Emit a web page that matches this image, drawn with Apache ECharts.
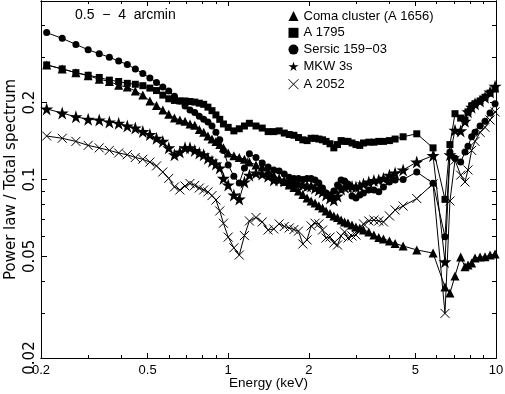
<!DOCTYPE html>
<html><head><meta charset="utf-8">
<script src="https://cdn.jsdelivr.net/npm/echarts@6/dist/echarts.min.js"></script>
<style>html,body{margin:0;padding:0;background:#fff}#c{width:505px;height:394px}</style>
</head><body><div id="c"></div>
<script>
// Energy grid (keV)
const energy = [0.21,0.24,0.27,0.30,0.33,0.36,0.39,0.42,0.45,0.48,0.51,0.54,0.57,0.60,0.63,0.66,0.69,0.72,0.75,0.78,0.81,0.84,0.87,0.90,0.93,0.96,
  1.00,1.05,1.10,1.15,1.20,1.27,1.34,1.41,1.48,1.55,1.62,1.69,1.76,1.83,1.90,1.97,2.04,
  2.11,2.18,2.25,2.32,2.40,2.48,2.56,2.64,2.72,2.80,2.90,3.00,3.10,3.20,3.35,3.50,3.65,3.80,4.00,4.20,4.50,
  5.06,5.82,6.45,6.73,7.03,7.38,7.66,7.86,8.11,8.35,8.72,9.10,9.50,9.92];

const coma = [0.281,0.271,0.262,0.255,0.247,0.242,0.234,0.230,0.222,0.214,0.203,0.195,0.187,0.180,0.174,0.171,0.169,0.165,0.163,0.157,0.153,0.148,0.144,0.141,0.137,0.133,
  0.127,0.124,0.122,0.120,0.117,0.114,0.112,0.108,0.104,0.101,0.0983,0.0952,0.0931,0.0902,0.0873,0.0846,0.0824,
  0.0809,0.0790,0.0774,0.0753,0.0736,0.0720,0.0710,0.0694,0.0682,0.0676,0.0664,0.0652,0.0646,0.0634,0.0623,0.0606,0.0593,0.0585,0.0575,0.0562,0.0549,
  0.0530,0.0515,0.0379,0.0359,0.0419,0.0497,0.0455,0.0463,0.0471,0.0493,0.0497,0.0498,0.0506,0.0511];

const a1795 = [0.281,0.271,0.262,0.256,0.251,0.245,0.242,0.238,0.236,0.233,0.228,0.223,0.214,0.207,0.204,0.203,0.203,0.202,0.201,0.199,0.197,0.192,0.186,0.179,0.172,0.165,
  0.160,0.155,0.158,0.162,0.166,0.162,0.159,0.154,0.154,0.155,0.152,0.150,0.149,0.146,0.143,0.142,0.145,
  0.145,0.144,0.143,0.141,0.138,0.133,0.137,0.142,0.141,0.141,0.139,0.137,0.136,0.139,0.140,0.140,0.141,0.141,0.142,0.144,0.147,
  0.151,0.133,0.0836,0.137,0.181,0.174,0.171,0.184,0.194,0.198,0.203,0.210,0.218,0.226];

const sersic = [0.376,0.357,0.338,0.322,0.311,0.301,0.291,0.282,0.271,0.260,0.250,0.240,0.230,0.222,0.212,0.203,0.194,0.187,0.183,0.177,0.172,0.168,0.162,0.153,0.143,0.130,
  0.114,0.103,0.0969,0.111,0.126,0.122,0.116,0.112,0.109,0.108,0.105,0.102,0.101,0.101,0.100,0.101,0.101,
  0.0996,0.0970,0.0926,0.0885,0.0869,0.0902,0.0952,0.0996,0.0987,0.0961,0.0862,0.0846,0.0869,0.0885,0.0910,0.0910,0.0896,0.0935,0.0978,0.0996,0.100,
  0.107,0.0967,0.0597,0.128,0.121,0.117,0.128,0.135,0.147,0.153,0.162,0.169,0.182,0.198];

const mkw3s = [0.189,0.182,0.176,0.172,0.171,0.168,0.166,0.162,0.159,0.154,0.150,0.145,0.141,0.133,0.125,0.128,0.133,0.133,0.130,0.127,0.125,0.121,0.118,0.115,0.111,0.101,
  0.0952,0.0869,0.0838,0.0978,0.104,0.106,0.105,0.103,0.0996,0.0996,0.0987,0.0978,0.0970,0.0961,0.0952,0.0943,0.0943,
  0.0926,0.0910,0.0894,0.0869,0.0846,0.0831,0.0862,0.0918,0.0935,0.0943,0.0939,0.0935,0.0943,0.0961,0.0978,0.0991,0.0996,0.101,0.104,0.106,0.109,
  0.117,0.124,0.0476,0.125,0.156,0.155,0.169,0.184,0.192,0.198,0.203,0.210,0.220,0.232];

const a2052 = [0.148,0.145,0.141,0.136,0.133,0.130,0.127,0.125,0.122,0.120,0.117,0.113,0.107,0.101,0.0935,0.0910,0.0943,0.0965,0.0948,0.0926,0.0910,0.0894,0.0865,0.0831,0.0753,0.0674,
  0.0595,0.0540,0.0506,0.0603,0.0688,0.0710,0.0682,0.0634,0.0640,0.0670,0.0655,0.0646,0.0637,0.0628,0.0559,0.0580,0.0658,
  0.0674,0.0670,0.0634,0.0590,0.0595,0.0564,0.0554,0.0601,0.0623,0.0590,0.0601,0.0606,0.0634,0.0670,0.0688,0.0694,0.0688,0.0682,0.0720,0.0760,0.0787,
  0.0842,0.0961,0.0299,0.0824,0.119,0.104,0.0978,0.109,0.130,0.141,0.153,0.160,0.171,0.184];

const seriesNames = ['Coma cluster (A 1656)', 'A 1795', 'Sersic 159\u221203', 'MKW 3s', 'A 2052'];
const xLabelTicks = [0.2, 0.5, 1, 2, 5, 10];
const xMinorTicks = [0.3, 0.4, 0.6, 0.7, 0.8, 0.9, 3, 4, 6, 7, 8, 9];
const yLabelTicks = [0.02, 0.05, 0.1, 0.2];
const yMinorTicks = [0.03, 0.04, 0.06, 0.07, 0.08, 0.09, 0.3, 0.4];

const FONT = 'Liberation Sans';
const VFONT = 'DejaVu Sans';
const STAR = 'path://M50,0L61.8,35.5L100,35.5L69.1,57.4L80.9,92.7L50,70.8L19.1,92.7L30.9,57.4L0,35.5L38.2,35.5Z';
const CROSS = 'path://M0,0L10,10M10,0L0,10';

function fmt(v) { return String(parseFloat(v.toPrecision(3))); }

function mkAxis(kind, pos, ticks, len, labels, extra) {
  const isX = kind === 'x';
  const ax = {
    type: 'log', logBase: 10,
    min: isX ? 0.2 : 0.02, max: isX ? 10 : 0.5,
    gridIndex: 0, position: pos,
    axisLine: { show: true, onZero: false, lineStyle: { color: '#000', width: 1 } },
    axisTick: { show: true, inside: true, length: len, customValues: ticks, lineStyle: { color: '#000', width: 1 } },
    axisLabel: labels ? {
      show: true, customValues: labels, color: '#000',
      fontSize: isX ? 13 : 15, fontFamily: isX ? FONT : VFONT,
      formatter: fmt, margin: isX ? 6 : 3, rotate: isX ? 0 : 90
    } : { show: false },
    splitLine: { show: false }, minorTick: { show: false }
  };
  return Object.assign(ax, extra || {});
}

const xAxes = [
  mkAxis('x', 'bottom', xLabelTicks, 5, xLabelTicks, { name: 'Energy (keV)', nameLocation: 'middle', nameGap: 18, nameMoveOverlap: false,
    nameTextStyle: { color: '#000', fontSize: 13.5, fontFamily: FONT } }),
  mkAxis('x', 'bottom', xMinorTicks, 3),
  mkAxis('x', 'top', xLabelTicks, 5),
  mkAxis('x', 'top', xMinorTicks, 3)
];
const yAxes = [
  mkAxis('y', 'left', yLabelTicks, 6, yLabelTicks, { name: 'Power law / Total spectrum', nameLocation: 'middle', nameGap: 22, nameRotate: 90, nameMoveOverlap: false,
    nameTextStyle: { color: '#000', fontSize: 15, fontFamily: VFONT } }),
  mkAxis('y', 'left', yMinorTicks, 4),
  mkAxis('y', 'right', yLabelTicks, 6),
  mkAxis('y', 'right', yMinorTicks, 4)
];

const values = [coma, a1795, sersic, mkw3s, a2052];
const symbols = ['triangle', 'rect', 'circle', STAR, CROSS];
const sizes = [9, 7, 7, 13, 9];

const series = values.map((arr, k) => ({
  name: seriesNames[k],
  type: 'line',
  xAxisIndex: 0, yAxisIndex: 0,
  data: energy.map((e, i) => [e, arr[i]]),
  symbol: symbols[k],
  symbolSize: sizes[k],
  showSymbol: true,
  showAllSymbol: true,
  lineStyle: { color: '#000', width: 1 },
  itemStyle: k === 4 ? { color: 'none', borderColor: '#000', borderWidth: 1 } : { color: '#000', borderWidth: 0 },
  emphasis: { disabled: true },
  silent: true,
  z: 2 + k
}));

const chart = echarts.init(document.getElementById('c'), null, { renderer: 'canvas' });
chart.setOption({
  animation: false,
  backgroundColor: '#fff',
  grid: { left: 41, right: 9, top: 1, bottom: 36, containLabel: false, outerBoundsMode: 'none' },
  xAxis: xAxes,
  yAxis: yAxes,
  legend: {
    orient: 'vertical', left: 281, top: 4.5,
    itemWidth: 10, itemHeight: 10, itemGap: 3.8,
    selectedMode: false,
    textStyle: { color: '#000', fontSize: 13, fontFamily: FONT, lineHeight: 13 },
    data: seriesNames.map((n, k) => k === 4
      ? { name: n, icon: symbols[k], itemStyle: { color: 'none', borderColor: '#000', borderWidth: 1 } }
      : { name: n, icon: symbols[k] })
  },
  graphic: [{
    type: 'text', left: 75, top: 8,
    style: { text: '0.5  \u2212  4  arcmin', fill: '#000', font: '14px "' + FONT + '"' }
  }],
  series: series
});
</script>
</body></html>
